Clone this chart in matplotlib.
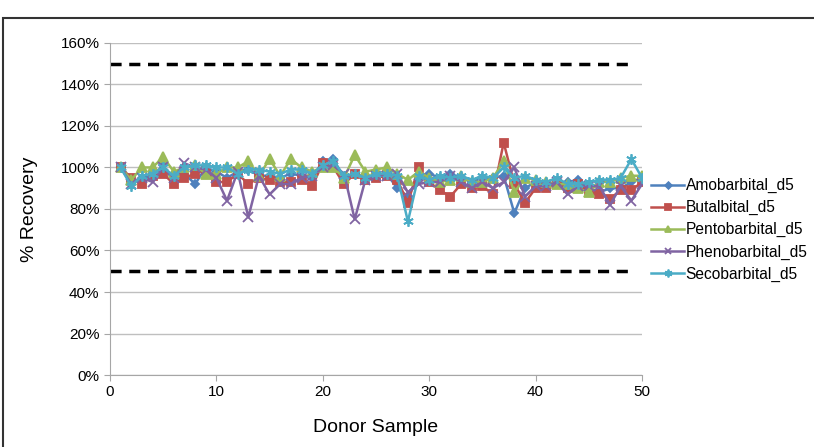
import matplotlib
matplotlib.use('Agg')
import matplotlib.pyplot as plt
from matplotlib.ticker import PercentFormatter
from matplotlib.patches import Rectangle
import numpy as np

plt.rcParams['font.family'] = ['Liberation Sans', 'DejaVu Sans']

donor = np.arange(1, 51)

amobarbital = [100, 93, 95, 96, 101, 93, 97, 92, 100, 98,
               95, 98, 99, 96, 96, 95, 97, 96, 95, 103,
               104, 95, 97, 95, 96, 97, 90, 86, 95, 97,
               95, 97, 95, 93, 95, 95, 96, 78, 90, 93,
               92, 92, 93, 94, 90, 88, 90, 90, 93, 95]
butalbital = [100, 95, 92, 96, 97, 92, 95, 97, 99, 93,
              93, 97, 92, 95, 94, 93, 93, 94, 91, 102,
              100, 92, 97, 94, 95, 96, 94, 83, 100, 93,
              89, 86, 92, 90, 91, 87, 112, 92, 83, 90,
              90, 92, 90, 92, 88, 87, 85, 89, 89, 93]
pentobarbital = [100, 94, 100, 100, 105, 98, 100, 101, 97, 97,
                 100, 100, 103, 96, 104, 96, 104, 100, 98, 100,
                 100, 95, 106, 98, 99, 100, 97, 94, 98, 95,
                 93, 94, 96, 93, 93, 95, 103, 88, 95, 94,
                 93, 92, 92, 90, 88, 93, 93, 95, 96, 96]
phenobarbital = [100, 92, 95, 93, 100, 95, 102, 100, 99, 95,
                 84, 98, 76, 96, 87, 92, 92, 95, 96, 100,
                 101, 97, 75, 94, 96, 96, 97, 88, 92, 93,
                 93, 96, 93, 90, 93, 90, 93, 100, 86, 91,
                 91, 93, 87, 91, 91, 91, 82, 91, 84, 92]
secobarbital = [100, 91, 96, 97, 100, 96, 100, 101, 101, 100,
                100, 97, 99, 99, 98, 97, 99, 99, 97, 101,
                103, 96, 97, 95, 97, 97, 96, 74, 96, 94,
                96, 95, 96, 94, 96, 95, 100, 95, 96, 94,
                93, 95, 92, 92, 93, 94, 94, 95, 104, 95]

series = [('Amobarbital_d5', amobarbital, '#4F81BD', 'D', 4.5),
          ('Butalbital_d5', butalbital, '#C0504D', 's', 5.5),
          ('Pentobarbital_d5', pentobarbital, '#9BBB59', '^', 6.5),
          ('Phenobarbital_d5', phenobarbital, '#8064A2', 'x', 6.5),
          ('Secobarbital_d5', secobarbital, '#4BACC6', (6, 2, 0), 7.5)]

limits = [150, 50]

fig = plt.figure(figsize=(8.14, 4.47), dpi=100)
ax = fig.add_axes([0.1351, 0.1610, 0.6536, 0.7430])

for name, vals, col, mk, ms in series:
    ax.plot(donor, vals, color=col, marker=mk, markersize=ms, lw=1.8,
            markeredgewidth=1.3, label=name)

for lim in limits:
    ax.plot([0, 49], [lim, lim], color='black', lw=2.5, ls=(0, (3.2, 2.2)))

ax.set_xlim(0, 50)
ax.set_ylim(0, 160)
ax.set_xticks(range(0, 51, 10))
ax.set_yticks(range(0, 161, 20))
ax.yaxis.set_major_formatter(PercentFormatter(decimals=0))
ax.grid(axis='y', color='#BFBFBF', lw=1)
ax.set_axisbelow(True)
for s in ['top', 'right']:
    ax.spines[s].set_visible(False)
for s in ['left', 'bottom']:
    ax.spines[s].set_color('#A6A6A6')
ax.tick_params(colors='#A6A6A6', labelcolor='black', labelsize=11, length=4)

ax.set_xlabel('Donor Sample', fontsize=14, labelpad=14)
ax.set_ylabel('% Recovery', fontsize=14)
ax.yaxis.set_label_coords(-0.135, 0.5)

ax.legend(loc='center left', bbox_to_anchor=(1.0, 0.437), frameon=False,
          fontsize=11.2, handlelength=2.1, handletextpad=0.1,
          labelspacing=0.45, borderaxespad=0.2, markerscale=0.75)

# outer frame
fig.patches.append(Rectangle((3 / 814, -0.1), 1.2, 1.1 - 18 / 447,
                             transform=fig.transFigure, fill=False,
                             edgecolor='#333333', lw=1.5))

fig.savefig('out.png', dpi=100)
